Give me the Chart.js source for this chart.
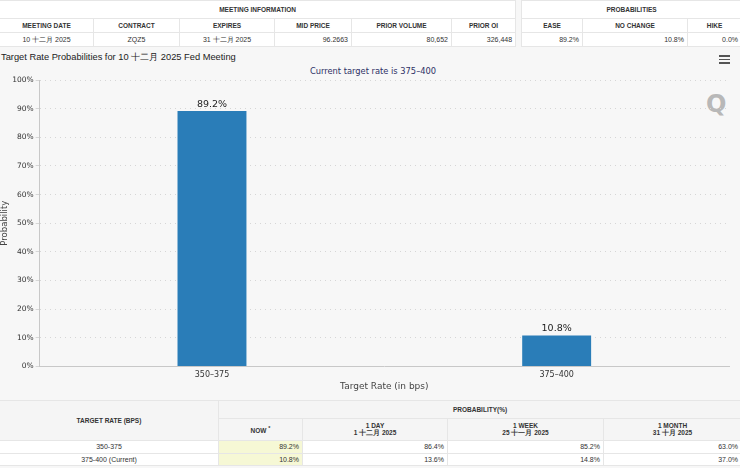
<!DOCTYPE html>
<html>
<head>
<meta charset="utf-8">
<script src="https://cdn.jsdelivr.net/npm/chart.js@4"></script>
<style>
  body{margin:0;width:740px;height:468px;overflow:hidden;background:#f7f7f7;font-family:"Liberation Sans",Arial,sans-serif;position:relative}
  table{border-collapse:collapse;table-layout:fixed;position:absolute;background:#fff}
  td,th{border:1px solid #e6e6e6;padding:0 3px;font-size:7px;color:#333;white-space:nowrap;overflow:hidden}
  th{font-weight:bold;text-align:center;font-size:6.5px}
  td.num{text-align:right}
  td.ctr{text-align:center}
  #topInfo{left:-1px;top:0;width:517px}
  #topProb{left:521px;top:0;width:220px}
  #topInfo tr,#topProb tr{height:14px}
  #topInfo tr.h1,#topProb tr.h1{height:18px}
  #bottom{left:-1px;top:400px;width:742px}
  #bottom th{background:#f5f5f5}
  #bottom td.now{background:#f6f8d5}
  #chartTitle{position:absolute;left:1px;top:51px;font-size:9.3px;color:#222}
  #subTitle{position:absolute;left:0;width:746px;text-align:center;top:66px;font-size:8.3px;color:#2e3166;font-family:"DejaVu Sans",sans-serif}
  #menu{position:absolute;left:719px;top:55px;width:11px}
  #menu div{height:1.5px;background:#555;margin-bottom:2px}
  #logo{position:absolute;left:706px;top:90px;font-size:24px;font-weight:bold;color:#b8b8b8;font-family:"DejaVu Sans",sans-serif}
  #wrap{position:absolute;left:0;top:50px;width:740px;height:345px}
</style>
</head>
<body>
<table id="topInfo">
  <colgroup><col style="width:94px"><col style="width:86px"><col style="width:95px"><col style="width:77px"><col style="width:100px"><col style="width:64px"></colgroup>
  <tr class="h1"><th colspan="6">MEETING INFORMATION</th></tr>
  <tr id="infoHead"></tr>
  <tr id="infoVals"></tr>
</table>
<table id="topProb">
  <colgroup><col style="width:61px"><col style="width:105px"><col style="width:54px"></colgroup>
  <tr class="h1"><th colspan="3">PROBABILITIES</th></tr>
  <tr id="probHead"></tr>
  <tr id="probVals"></tr>
</table>

<div id="chartTitle">Target Rate Probabilities for 10 十二月 2025 Fed Meeting</div>
<div id="subTitle">Current target rate is 375–400</div>
<div id="menu"><div></div><div></div><div></div></div>
<div id="logo">Q</div>
<div id="wrap"><canvas id="rateChart"></canvas></div>

<table id="bottom">
  <colgroup><col style="width:219px"><col style="width:84px"><col style="width:145px"><col style="width:156px"><col style="width:138px"></colgroup>
  <tr style="height:18px"><th rowspan="2">TARGET RATE (BPS)</th><th colspan="4">PROBABILITY(%)</th></tr>
  <tr style="height:22px" id="histHead"></tr>
</table>

<script>
// chart data
const rateBuckets = ["350–375", "375–400"];
const probNow = [89.2, 10.8];
const yTicks = [0, 10, 20, 30, 40, 50, 60, 70, 80, 90, 100];

// top table
const infoHeaders = ["MEETING DATE", "CONTRACT", "EXPIRES", "MID PRICE", "PRIOR VOLUME", "PRIOR OI"];
const infoValues = ["10 十二月 2025", "ZQZ5", "31 十二月 2025", "96.2663", "80,652", "326,448"];
const probHeaders = ["EASE", "NO CHANGE", "HIKE"];
const probValues = ["89.2%", "10.8%", "0.0%"];

// bottom table
const histHeaders = ["NOW <sup>*</sup>", "1 DAY<br>1 十二月 2025", "1 WEEK<br>25 十一月 2025", "1 MONTH<br>31 十月 2025"];
const rowLabels = ["350-375", "375-400 (Current)"];
const histNow = ["89.2%", "10.8%"];
const hist1Day = ["86.4%", "13.6%"];
const hist1Week = ["85.2%", "14.8%"];
const hist1Month = ["63.0%", "37.0%"];

function fillTables(){
    document.getElementById("infoHead").innerHTML = infoHeaders.map(h=>"<th>"+h+"</th>").join("");
    document.getElementById("infoVals").innerHTML = infoValues.map((v,i)=>
        "<td class='"+(i<3?"ctr":"num")+"'>"+v+"</td>").join("");
    document.getElementById("probHead").innerHTML = probHeaders.map(h=>"<th>"+h+"</th>").join("");
    document.getElementById("probVals").innerHTML = probValues.map(v=>"<td class='num'>"+v+"</td>").join("");
    document.getElementById("histHead").innerHTML = histHeaders.map(h=>"<th>"+h+"</th>").join("");

    const tb = document.getElementById("bottom");
    rowLabels.forEach((lbl,i)=>{
        const tr = tb.insertRow();
        tr.style.height = "12.5px";
        tr.innerHTML = "<td class='ctr'>"+lbl+"</td><td class='num now'>"+histNow[i]+"</td><td class='num'>"+
            hist1Day[i]+"</td><td class='num'>"+hist1Week[i]+"</td><td class='num'>"+hist1Month[i]+"</td>";
    });
}

// draws the value above each bar
const barLabels = {
    id: "barLabels",
    afterDatasetsDraw(chart){
        const ctx = chart.ctx;
        const meta = chart.getDatasetMeta(0);
        ctx.save();
        ctx.font = "9.5px 'DejaVu Sans', sans-serif";
        ctx.fillStyle = "#222";
        ctx.textAlign = "center";
        ctx.textBaseline = "bottom";
        meta.data.forEach((bar,i)=>{
            ctx.fillText(probNow[i].toFixed(1)+"%", bar.x, bar.y - 2);
        });
        ctx.restore();
    }
};

function drawChart(){
    new Chart(document.getElementById("rateChart"), {
        type: "bar",
        data: {
            labels: rateBuckets,
            datasets: [{
                data: probNow,
                backgroundColor: "#2a7db8",
                borderColor: "#2a7db8",
                barPercentage: 0.2,
                categoryPercentage: 1
            }]
        },
        options: {
            responsive: true,
            maintainAspectRatio: false,
            animation: false,
            layout: {padding: {top: 30, right: 11, left: 0, bottom: 0}},
            plugins: {legend: {display: false}, tooltip: {enabled: false}},
            scales: {
                x: {
                    grid: {display: false, tickLength: 4},
                    border: {color: "#c8c8c8"},
                    ticks: {color: "#333", font: {size: 8, family: "'DejaVu Sans', sans-serif"}, padding: 0},
                    title: {display: true, text: "Target Rate (in bps)", color: "#444",
                        font: {size: 9, family: "'DejaVu Sans', sans-serif", lineHeight: 1}, padding: {top: 2, bottom: 4}}
                },
                y: {
                    min: 0,
                    max: 100,
                    afterBuildTicks: axis => { axis.ticks = yTicks.map(v=>({value: v})); },
                    grid: {color: "#d6d6d6", drawTicks: true, tickLength: 4, borderDash: [1, 4]},
                    border: {display: true, color: "#c8c8c8", dash: [1, 4]},
                    ticks: {color: "#333", font: {size: 7.5, family: "'DejaVu Sans', sans-serif"},
                        padding: 2, callback: v => v + "%"},
                    title: {display: true, text: "Probability", color: "#444",
                        font: {size: 8.5, family: "'DejaVu Sans', sans-serif"}, padding: 0}
                }
            }
        },
        plugins: [barLabels]
    });
}

fillTables();
drawChart();
</script>
</body>
</html>
